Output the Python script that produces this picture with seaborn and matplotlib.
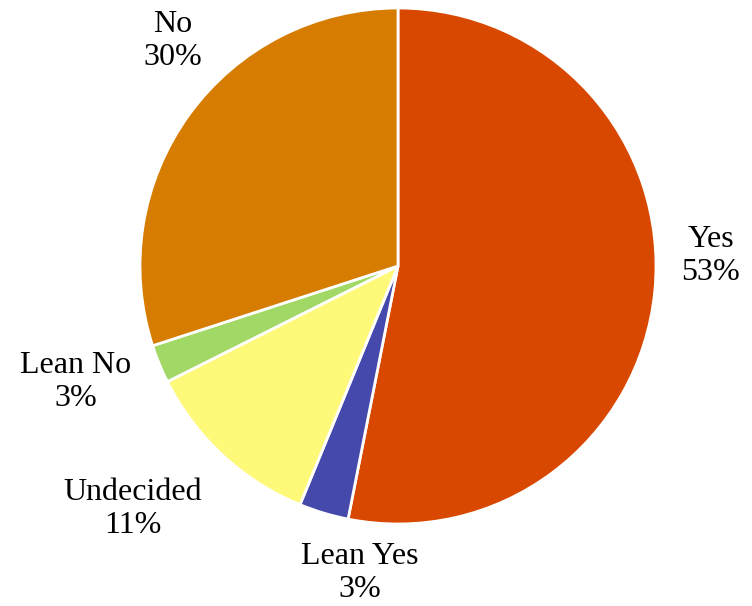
import numpy as np
import matplotlib
matplotlib.use('Agg')
from matplotlib import pyplot as plt
import seaborn as sns

# slice data, clockwise from 12 o'clock
categories = ['Yes', 'Lean Yes', 'Undecided', 'Lean No', 'No']
shares = [53.1, 3.1, 11.4, 2.4, 30.0]
pct_labels = ['53%', '3%', '11%', '3%', '30%']
colors = ['#D84800', '#4549AB', '#FFF97A', '#A2D865', '#D67C00']

# label centres, in units of the pie radius (layout only)
label_pos = [(1.213, 0.039), (-0.147, -1.190), (-1.027, -0.942),
             (-1.248, -0.450), (-0.872, 0.872)]

sns.set_theme(style='white')
plt.rcParams['font.family'] = ['Liberation Serif', 'DejaVu Serif']

fig = plt.figure(figsize=(7.52, 6.06), dpi=100)
ax = fig.add_axes([0, 0, 1, 1])
ax.pie(shares, colors=sns.color_palette(colors), startangle=90,
       counterclock=False, radius=1,
       wedgeprops=dict(edgecolor='white', linewidth=2))

for cat, pct, (x, y) in zip(categories, pct_labels, label_pos):
    ax.text(x, y, cat + '\n' + pct, ha='center', va='center',
            fontsize=23, color='black', linespacing=1.15)

ax.set_aspect('equal')
ax.set_xlim(-398 / 258, (752 - 398) / 258)
ax.set_ylim(-(606 - 266) / 258, 266 / 258)
ax.axis('off')

plt.savefig('out.png', dpi=100)
